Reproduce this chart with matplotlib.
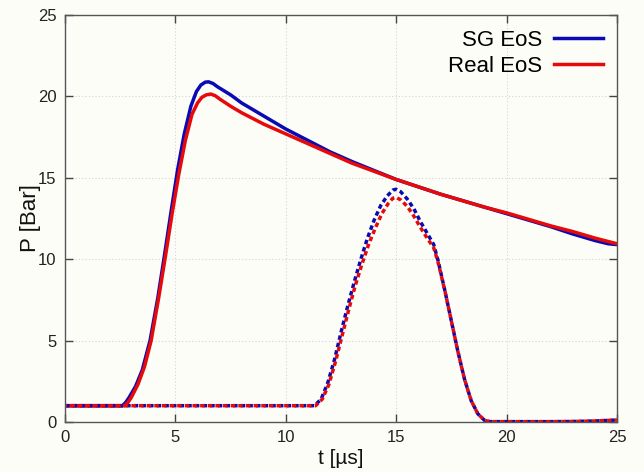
import numpy as np
import matplotlib
matplotlib.use("Agg")
import matplotlib.pyplot as plt

# ---- data ----
t_sg = [0, 2.6, 2.75, 2.9, 3.2, 3.5, 3.85, 4.2, 4.5, 4.8, 5.1, 5.4, 5.7, 5.95, 6.15, 6.35, 6.5, 6.7, 6.9,
        7.5, 8, 9, 10, 11, 12, 13, 14, 15, 16, 17, 18, 19, 20, 21, 22, 23, 24, 24.6, 25]
p_sg = [1.0, 1.0, 1.2, 1.5, 2.2, 3.2, 5.0, 7.6, 10.2, 12.9, 15.5, 17.7, 19.4, 20.3, 20.7, 20.88, 20.9, 20.8, 20.6,
        20.1, 19.6, 18.8, 18.0, 17.3, 16.6, 16.0, 15.45, 14.9, 14.45, 14.0, 13.6, 13.2, 12.8, 12.4, 12.0, 11.55, 11.15, 10.95, 10.9]

t_real = [0, 2.7, 2.85, 3.0, 3.3, 3.6, 3.9, 4.25, 4.55, 4.85, 5.15, 5.45, 5.75, 6.0, 6.2, 6.4, 6.6, 6.8, 7.0,
          7.5, 8, 9, 10, 11, 12, 13, 14, 15, 16, 17, 18, 19, 20, 21, 22, 23, 24, 25]
p_real = [1.0, 1.0, 1.2, 1.5, 2.3, 3.4, 5.0, 7.7, 10.2, 12.8, 15.2, 17.3, 18.9, 19.6, 19.95, 20.1, 20.15, 20.05, 19.85,
          19.4, 19.0, 18.3, 17.7, 17.1, 16.5, 15.9, 15.4, 14.9, 14.45, 14.0, 13.6, 13.2, 12.85, 12.45, 12.05, 11.7, 11.3, 10.95]

t_sg_d = [0, 11.3, 11.6, 11.9, 12.2, 12.5, 12.8, 13.1, 13.4, 13.7, 14.0, 14.3, 14.6, 14.85, 15.0,
          15.2, 15.5, 15.8, 16.1, 16.4, 16.7, 16.9, 17.2, 17.5, 17.8, 18.1, 18.4, 18.7, 19.0, 19.25,
          20, 21, 22, 23, 24, 25]
p_sg_d = [1.0, 1.0, 1.4, 2.4, 3.8, 5.5, 7.1, 8.6, 10.0, 11.3, 12.4, 13.3, 13.9, 14.25, 14.3,
          14.15, 13.7, 13.1, 12.3, 11.6, 10.9, 9.9, 8.1, 6.2, 4.3, 2.6, 1.3, 0.5, 0.1, 0.02,
          0.02, 0.02, 0.02, 0.03, 0.06, 0.12]

t_real_d = [0, 11.35, 11.65, 11.95, 12.25, 12.55, 12.85, 13.15, 13.45, 13.75, 14.05, 14.35, 14.65, 14.85, 15.0,
            15.2, 15.5, 15.8, 16.1, 16.4, 16.7, 16.9, 17.2, 17.5, 17.8, 18.1, 18.4, 18.7, 19.0, 19.25,
            20, 21, 22, 23, 24, 25]
p_real_d = [1.0, 1.0, 1.4, 2.3, 3.7, 5.3, 6.9, 8.4, 9.7, 10.9, 11.9, 12.8, 13.45, 13.75, 13.8,
            13.65, 13.25, 12.65, 11.95, 11.3, 10.7, 9.8, 8.1, 6.2, 4.3, 2.6, 1.3, 0.5, 0.1, 0.02,
            0.02, 0.02, 0.02, 0.03, 0.06, 0.12]

x_ticks = [0, 5, 10, 15, 20, 25]
y_ticks = [0, 5, 10, 15, 20, 25]

BLUE = "#0a0ab4"
RED = "#e60a0a"
BG = "#fdfdf8"

plt.rcParams['font.family'] = ['Liberation Sans', 'DejaVu Sans']

fig = plt.figure(figsize=(6.44, 4.72), dpi=100, facecolor=BG)
ax = fig.add_axes([0.101, 0.106, 0.857, 0.862], facecolor=BG)

lw = 2.5
ax.plot(t_sg, p_sg, color=BLUE, lw=lw, label="SG EoS", solid_joinstyle='round')
ax.plot(t_real, p_real, color=RED, lw=lw, label="Real EoS", solid_joinstyle='round')
ax.plot(t_sg_d, p_sg_d, color=BLUE, lw=lw, linestyle=(0, (1.3, 0.9)))
ax.plot(t_real_d, p_real_d, color=RED, lw=lw, linestyle=(0.7, (1.3, 0.9)))

ax.set_xlim(0, 25)
ax.set_ylim(0, 25)
ax.set_xticks(x_ticks)
ax.set_yticks(y_ticks)
ax.grid(True, color="#d0d2e0", linestyle=(0, (1, 2)), linewidth=0.8)
ax.tick_params(direction='in', top=True, right=True, length=6, width=1,
               color="#444444", labelsize=12, labelcolor="#222222", pad=6)
for s in ax.spines.values():
    s.set_color("#555555")
    s.set_linewidth(1.0)

ax.set_xlabel("t [µs]", fontsize=15, labelpad=3, color="#111111")
ax.set_ylabel("P [Bar]", fontsize=16, labelpad=-2, color="#111111")

leg = ax.legend(loc='upper right', frameon=False, markerfirst=False, fontsize=16,
                handlelength=2.2, handletextpad=0.5, borderaxespad=0.25, labelspacing=0.25)
for txt in leg.get_texts():
    txt.set_ha('right')

fig.savefig("out.png", dpi=100, facecolor=BG)
